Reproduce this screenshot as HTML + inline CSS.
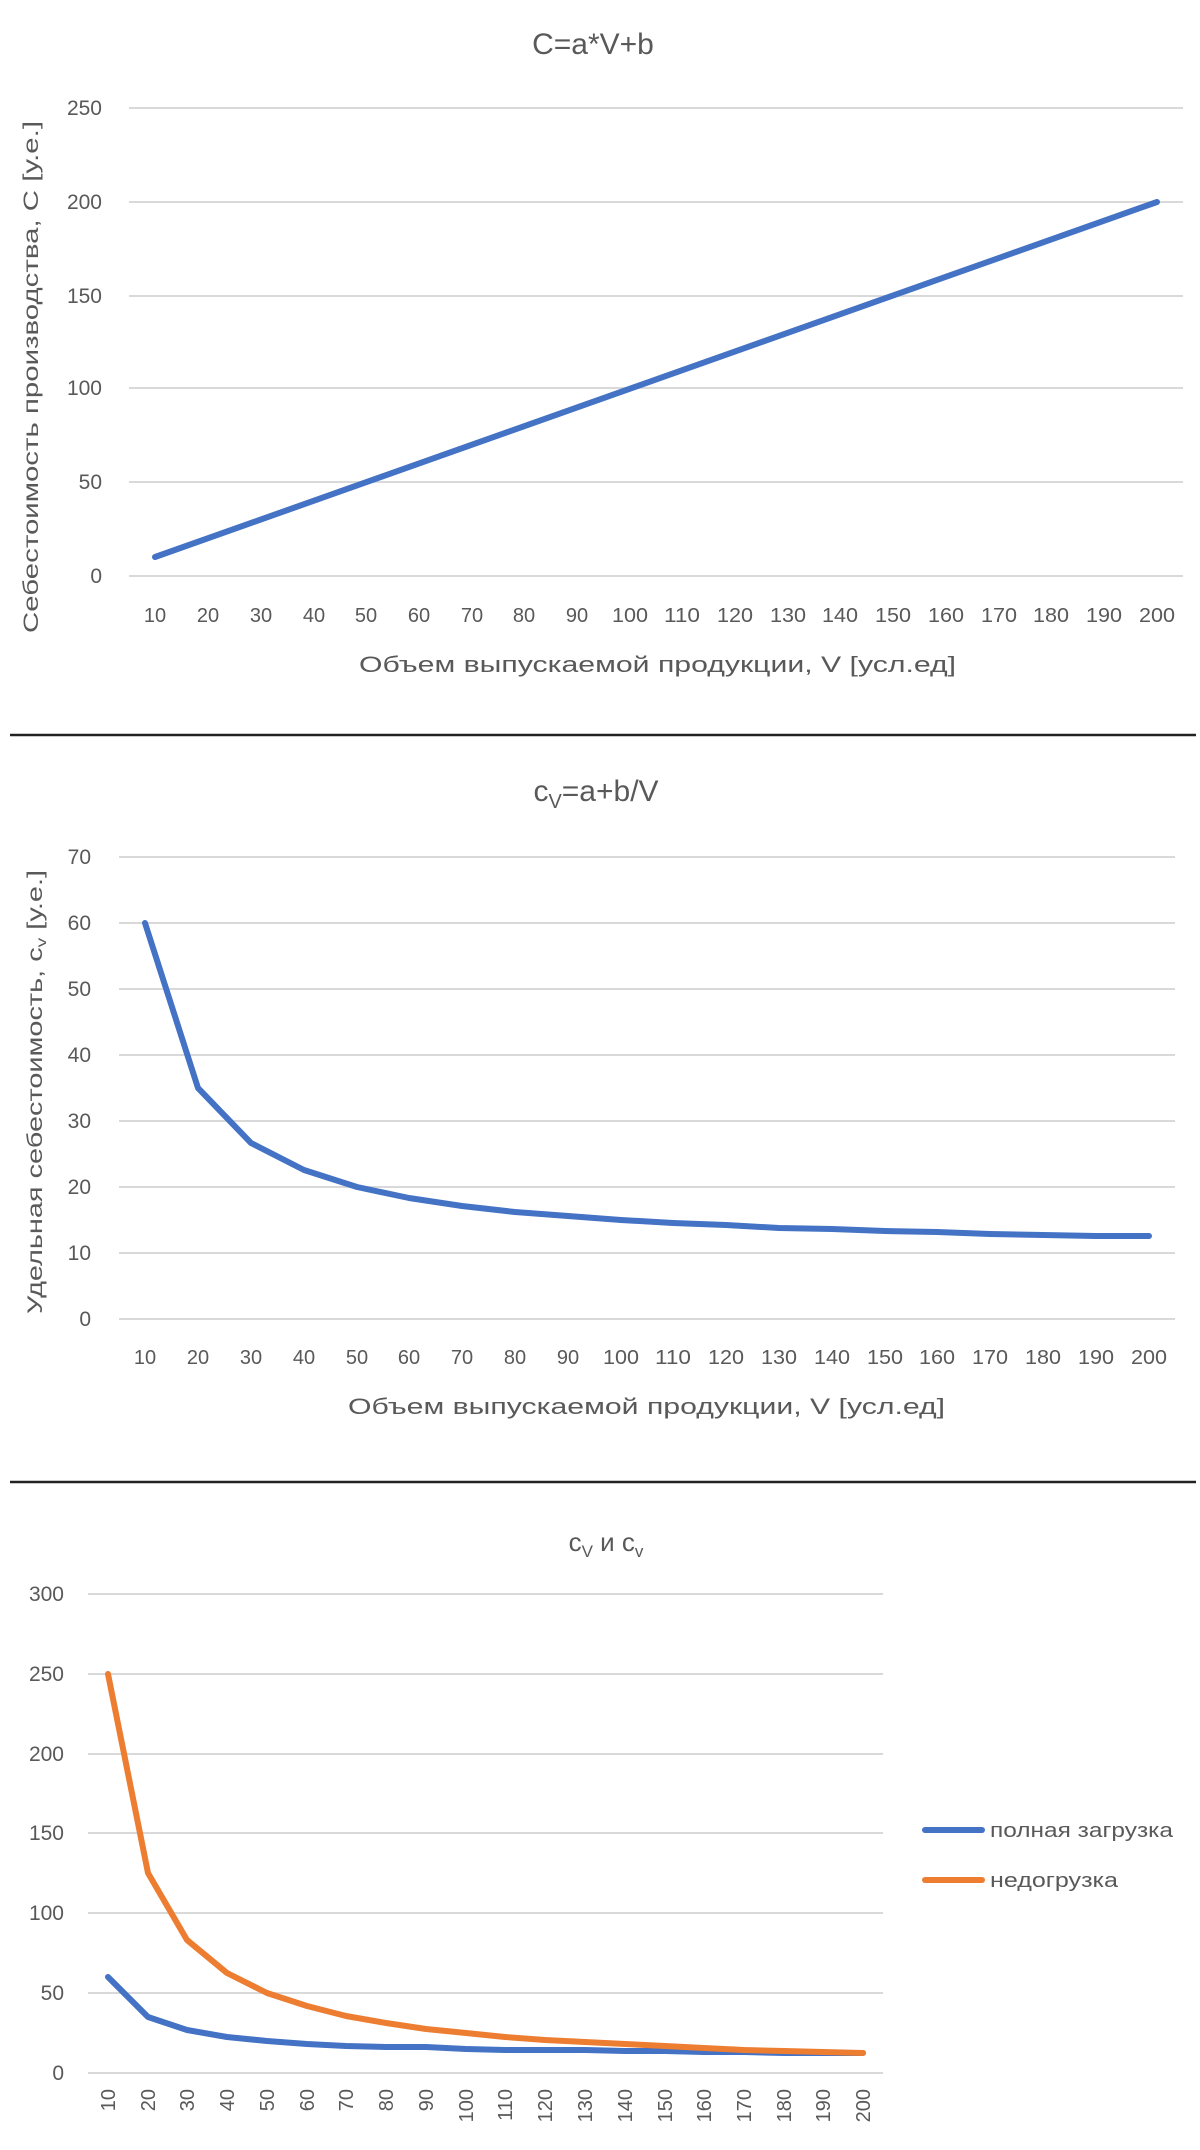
<!DOCTYPE html>
<html><head><meta charset="utf-8"><style>
html,body{margin:0;padding:0;background:#fff;}
svg{display:block;}
text{font-family:"Liberation Sans",sans-serif;fill:#595959;}
</style></head><body>
<svg width="1200" height="2150" viewBox="0 0 1200 2150" xmlns="http://www.w3.org/2000/svg">
<rect width="1200" height="2150" fill="#fff"/>
<!-- Chart 1 -->
<text x="593" y="54" font-size="30" text-anchor="middle">C=a*V+b</text>
<g stroke="#d9d9d9" stroke-width="2">
<line x1="129" y1="108" x2="1183" y2="108"/><line x1="129" y1="202" x2="1183" y2="202"/>
<line x1="129" y1="296" x2="1183" y2="296"/><line x1="129" y1="388" x2="1183" y2="388"/>
<line x1="129" y1="482" x2="1183" y2="482"/><line x1="129" y1="576" x2="1183" y2="576"/>
</g>
<g font-size="21" text-anchor="end">
<text x="102" y="115">250</text><text x="102" y="209">200</text><text x="102" y="303">150</text>
<text x="102" y="395">100</text><text x="102" y="489">50</text><text x="102" y="583">0</text>
</g>
<g font-size="20" text-anchor="middle">
<text x="155" y="622">10</text><text x="208" y="622">20</text><text x="261" y="622">30</text><text x="314" y="622">40</text><text x="366" y="622">50</text><text x="419" y="622">60</text><text x="472" y="622">70</text><text x="524" y="622">80</text><text x="577" y="622">90</text><text x="630" y="622" textLength="36" lengthAdjust="spacingAndGlyphs">100</text><text x="682" y="622" textLength="36" lengthAdjust="spacingAndGlyphs">110</text><text x="735" y="622" textLength="36" lengthAdjust="spacingAndGlyphs">120</text><text x="788" y="622" textLength="36" lengthAdjust="spacingAndGlyphs">130</text><text x="840" y="622" textLength="36" lengthAdjust="spacingAndGlyphs">140</text><text x="893" y="622" textLength="36" lengthAdjust="spacingAndGlyphs">150</text><text x="946" y="622" textLength="36" lengthAdjust="spacingAndGlyphs">160</text><text x="999" y="622" textLength="36" lengthAdjust="spacingAndGlyphs">170</text><text x="1051" y="622" textLength="36" lengthAdjust="spacingAndGlyphs">180</text><text x="1104" y="622" textLength="36" lengthAdjust="spacingAndGlyphs">190</text><text x="1157" y="622" textLength="36" lengthAdjust="spacingAndGlyphs">200</text>
</g>
<text x="359" y="672" font-size="22" textLength="597" lengthAdjust="spacingAndGlyphs">Объем выпускаемой продукции, V [усл.ед]</text>
<text transform="translate(38,633) rotate(-90)" font-size="21" textLength="512" lengthAdjust="spacingAndGlyphs">Себестоимость производства, C [у.е.]</text>
<line x1="155" y1="557" x2="1157" y2="202" stroke="#4472C4" stroke-width="6" stroke-linecap="round"/>
<line x1="10" y1="735" x2="1196" y2="735" stroke="#222" stroke-width="2.5"/>

<!-- Chart 2 -->
<text x="596" y="801" font-size="30" text-anchor="middle">c<tspan font-size="20" dy="7">V</tspan><tspan dy="-7">=a+b/V</tspan></text>
<g stroke="#d9d9d9" stroke-width="2">
<line x1="119" y1="857" x2="1175" y2="857"/><line x1="119" y1="923" x2="1175" y2="923"/>
<line x1="119" y1="989" x2="1175" y2="989"/><line x1="119" y1="1055" x2="1175" y2="1055"/>
<line x1="119" y1="1121" x2="1175" y2="1121"/><line x1="119" y1="1187" x2="1175" y2="1187"/>
<line x1="119" y1="1253" x2="1175" y2="1253"/><line x1="119" y1="1319" x2="1175" y2="1319"/>
</g>
<g font-size="21" text-anchor="end">
<text x="91" y="864">70</text><text x="91" y="930">60</text><text x="91" y="996">50</text><text x="91" y="1062">40</text>
<text x="91" y="1128">30</text><text x="91" y="1194">20</text><text x="91" y="1260">10</text><text x="91" y="1326">0</text>
</g>
<g font-size="20" text-anchor="middle">
<text x="145" y="1364">10</text><text x="198" y="1364">20</text><text x="251" y="1364">30</text><text x="304" y="1364">40</text><text x="357" y="1364">50</text><text x="409" y="1364">60</text><text x="462" y="1364">70</text><text x="515" y="1364">80</text><text x="568" y="1364">90</text><text x="621" y="1364" textLength="36" lengthAdjust="spacingAndGlyphs">100</text><text x="673" y="1364" textLength="36" lengthAdjust="spacingAndGlyphs">110</text><text x="726" y="1364" textLength="36" lengthAdjust="spacingAndGlyphs">120</text><text x="779" y="1364" textLength="36" lengthAdjust="spacingAndGlyphs">130</text><text x="832" y="1364" textLength="36" lengthAdjust="spacingAndGlyphs">140</text><text x="885" y="1364" textLength="36" lengthAdjust="spacingAndGlyphs">150</text><text x="937" y="1364" textLength="36" lengthAdjust="spacingAndGlyphs">160</text><text x="990" y="1364" textLength="36" lengthAdjust="spacingAndGlyphs">170</text><text x="1043" y="1364" textLength="36" lengthAdjust="spacingAndGlyphs">180</text><text x="1096" y="1364" textLength="36" lengthAdjust="spacingAndGlyphs">190</text><text x="1149" y="1364" textLength="36" lengthAdjust="spacingAndGlyphs">200</text>
</g>
<text x="348" y="1414" font-size="22" textLength="597" lengthAdjust="spacingAndGlyphs">Объем выпускаемой продукции, V [усл.ед]</text>
<text transform="translate(42,1314) rotate(-90)" font-size="21" textLength="444" lengthAdjust="spacingAndGlyphs">Удельная себестоимость, c<tspan font-size="14" dy="4">v</tspan><tspan dy="-4"> [у.е.]</tspan></text>
<polyline fill="none" stroke="#4472C4" stroke-width="6" stroke-linejoin="round" stroke-linecap="round" points="145,923 198,1088 251,1143 304,1170 357,1187 409,1198 462,1206 515,1212 568,1216 621,1220 673,1223 726,1225 779,1228 832,1229 885,1231 937,1232 990,1234 1043,1235 1096,1236 1149,1236"/>
<line x1="10" y1="1482" x2="1196" y2="1482" stroke="#222" stroke-width="2.5"/>

<!-- Chart 3 -->
<text x="606" y="1551" font-size="26" text-anchor="middle">c<tspan font-size="17" dy="6">V</tspan><tspan dy="-6"> и c</tspan><tspan font-size="17" dy="6">v</tspan></text>
<g stroke="#d9d9d9" stroke-width="2">
<line x1="88" y1="1594" x2="883" y2="1594"/><line x1="88" y1="1674" x2="883" y2="1674"/>
<line x1="88" y1="1754" x2="883" y2="1754"/><line x1="88" y1="1833" x2="883" y2="1833"/>
<line x1="88" y1="1913" x2="883" y2="1913"/><line x1="88" y1="1993" x2="883" y2="1993"/>
<line x1="88" y1="2073" x2="883" y2="2073"/>
</g>
<g font-size="21" text-anchor="end">
<text x="64" y="1601">300</text><text x="64" y="1681">250</text><text x="64" y="1761">200</text><text x="64" y="1840">150</text>
<text x="64" y="1920">100</text><text x="64" y="2000">50</text><text x="64" y="2080">0</text>
</g>
<g font-size="20" text-anchor="end">
<text transform="translate(115,2089) rotate(-90)">10</text><text transform="translate(155,2089) rotate(-90)">20</text><text transform="translate(194,2089) rotate(-90)">30</text><text transform="translate(234,2089) rotate(-90)">40</text><text transform="translate(274,2089) rotate(-90)">50</text><text transform="translate(314,2089) rotate(-90)">60</text><text transform="translate(353,2089) rotate(-90)">70</text><text transform="translate(393,2089) rotate(-90)">80</text><text transform="translate(433,2089) rotate(-90)">90</text><text transform="translate(473,2089) rotate(-90)">100</text><text transform="translate(512,2089) rotate(-90)">110</text><text transform="translate(552,2089) rotate(-90)">120</text><text transform="translate(592,2089) rotate(-90)">130</text><text transform="translate(632,2089) rotate(-90)">140</text><text transform="translate(672,2089) rotate(-90)">150</text><text transform="translate(711,2089) rotate(-90)">160</text><text transform="translate(751,2089) rotate(-90)">170</text><text transform="translate(791,2089) rotate(-90)">180</text><text transform="translate(830,2089) rotate(-90)">190</text><text transform="translate(870,2089) rotate(-90)">200</text>
</g>
<polyline fill="none" stroke="#4472C4" stroke-width="6" stroke-linejoin="round" stroke-linecap="round" points="108,1977 148,2017 187,2030 227,2037 267,2041 307,2044 346,2046 386,2047 426,2047 466,2049 505,2050 545,2050 585,2050 625,2051 665,2051 704,2052 744,2052 784,2053 823,2053 863,2053"/>
<polyline fill="none" stroke="#ED7D31" stroke-width="6" stroke-linejoin="round" stroke-linecap="round" points="108,1674 148,1873 187,1940 227,1973 267,1993 307,2006 346,2016 386,2023 426,2029 466,2033 505,2037 545,2040 585,2042 625,2044 665,2046 704,2048 744,2050 784,2051 823,2052 863,2053"/>
<line x1="925" y1="1830" x2="982" y2="1830" stroke="#4472C4" stroke-width="6" stroke-linecap="round"/>
<text x="990" y="1837" font-size="20" textLength="183" lengthAdjust="spacingAndGlyphs">полная загрузка</text>
<line x1="925" y1="1880" x2="982" y2="1880" stroke="#ED7D31" stroke-width="6" stroke-linecap="round"/>
<text x="990" y="1887" font-size="20" textLength="128" lengthAdjust="spacingAndGlyphs">недогрузка</text>
</svg>
</body></html>
